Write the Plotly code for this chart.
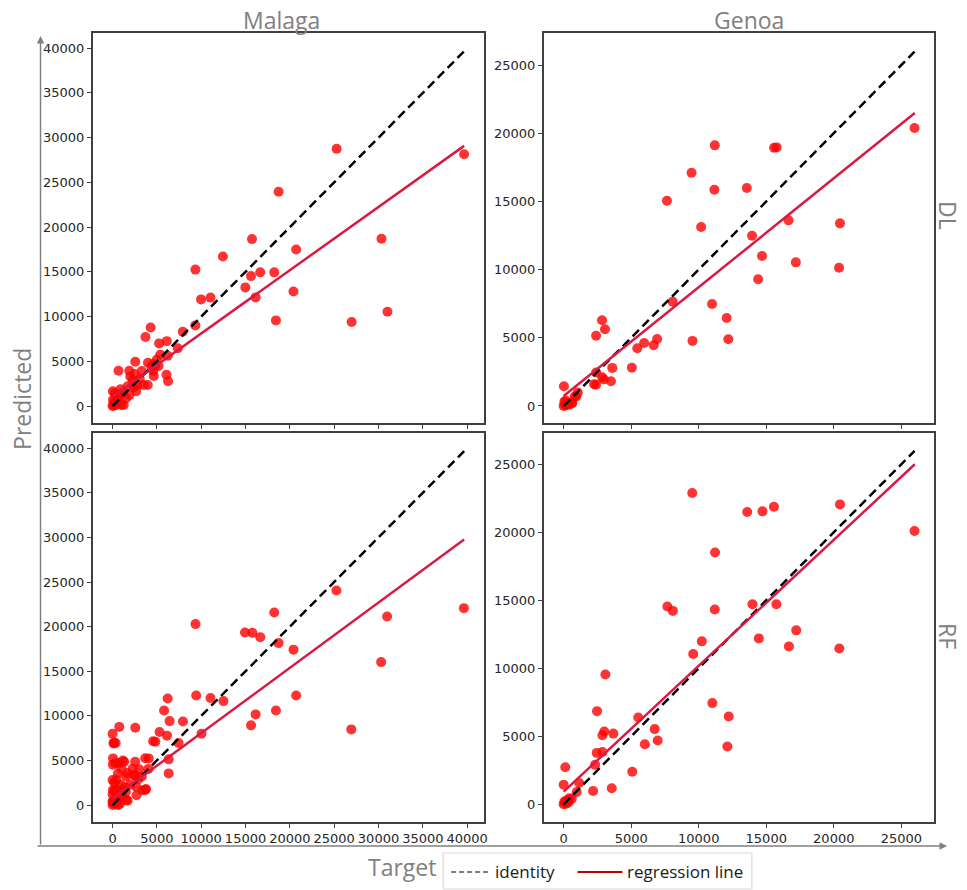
import plotly.graph_objects as go

# ---------------- data ----------------
malaga_dl_target = [25280, 39660, 18730, 15730, 30340, 20710, 12450, 9350, 15620, 16660, 18240, 14980,
                    9980, 11050, 16140, 20410, 18430, 26970, 31010, 9340, 7920, 4300, 3710, 5250, 6120,
                    7360, 5390, 6230, 2560, 3990, 4580, 4590, 6080, 6260, 670, 1890, 2250, 2470, 2660,
                    2810, 3070, 3500, 4380, 40, 900, 1540, 1260, 0, 100, 200, 300, 50, 400, 600, 150,
                    800, 1200, 500, 1700, 2000, 3300, 4800, 5000, 225, 970, 1910, 2400, 3970, 4650, 5190]
malaga_dl_pred = [28750, 28150, 23950, 18660, 18700, 17500, 16720, 15250, 14520, 14940, 14940, 13260,
                  11920, 12120, 12140, 12810, 9570, 9390, 10540, 9010, 8300, 8770, 7710, 7000, 7250,
                  6450, 5740, 5620, 4950, 4840, 4700, 3930, 3500, 2770, 3950, 3930, 2900, 3575, 1650,
                  2350, 3020, 2350, 4390, 1640, 1860, 860, 110, 0, 200, 500, 100, 700, 300, 600, 50,
                  1200, 1500, 1000, 2200, 3300, 3900, 4500, 5200, 1420, 110, 1230, 2100, 2350, 3350, 4470]

malaga_rf_target = [25250, 39630, 30970, 18240, 9360, 14940, 15770, 16660, 18730, 20410, 30300, 6220,
                    9440, 11050, 12510, 20710, 5810, 16140, 18430, 15620, 26930, 6440, 7940, 10030,
                    5300, 6140, 7450, 4570, 4830, 2560, 760, 0, 150, 350, 6330, 6330, 3680, 4080, 4040,
                    2550, 3000, 3300, 2900, 1310, 50, 300, 40, 700, 1690, 1000, 600, 0, 200, 900, 1400,
                    2000, 2500, 3700, 3400, 2700, 1700, 400, 0, 700, 300, 0, 100, 500, 0, 1100, 200,
                    1500, 800, 110, 1160, 2250, 410, 1530, 2470, 40, 1160, 2660, 3770, 40, 1530, 600]
malaga_rf_pred = [24050, 22070, 21140, 21590, 20280, 19340, 19300, 18820, 18150, 17420, 16020, 11950,
                  12270, 12000, 11650, 12270, 10600, 10160, 10600, 8930, 8480, 9410, 9370, 7990,
                  8180, 7780, 6950, 7150, 7100, 8660, 8760, 7980, 6980, 6950, 5120, 3550, 5240, 5230,
                  4050, 4860, 4000, 3200, 2900, 4860, 5230, 4680, 4530, 4700, 3600, 4100, 3500, 2800,
                  2500, 2300, 2000, 2300, 3300, 1700, 1650, 1100, 500, 1800, 1200, 1100, 600, 0, 200,
                  300, 400, 800, 1500, 1500, 100, 6910, 5000, 4070, 2800, 3210, 3360, 1680, 1680, 2050,
                  1790, 390, 580, 0]

genoa_dl_target = [25980, 11190, 15580, 15770, 9470, 11160, 13560, 7650, 10180, 16650, 20460, 13950,
                   14690, 17190, 20390, 14400, 8070, 10990, 12070, 12190, 9540, 6920, 6670, 5960, 5450,
                   5050, 2840, 2400, 3060, 3600, 3500, 2850, 2970, 2400, 2250, 2400, 20, 1050, 930,
                   640, 0, 100, 200, 300, 50, 400, 150, 600, 250, 820]
genoa_dl_pred = [20380, 19110, 18940, 18960, 17100, 15860, 15980, 15050, 13120, 13610, 13390, 12480,
                 11000, 10530, 10140, 9290, 7650, 7480, 6450, 4890, 4770, 4910, 4450, 4620, 4230,
                 2810, 6280, 5150, 5620, 2790, 1810, 2100, 1950, 2450, 1600, 1560, 1440, 980, 690,
                 200, 0, 100, 50, 200, 300, 100, 400, 250, 160, 690]

genoa_rf_target = [25980, 9520, 13590, 14720, 15570, 20460, 11210, 7680, 8090, 11190, 13980, 15750,
                   17220, 14450, 16680, 20410, 10230, 9590, 3090, 11010, 12220, 12120, 5520, 6740,
                   6960, 6010, 2470, 3010, 2870, 3680, 2450, 2870, 2330, 5080, 2180, 3560, 120, 0,
                   1150, 960, 600, 0, 100, 260, 430, 50, 200, 350]
genoa_rf_pred = [20090, 22890, 21490, 21540, 21880, 22050, 18520, 14540, 14220, 14320, 14710, 14710,
                 12790, 12200, 11610, 11460, 11980, 11050, 9550, 7440, 6460, 4250, 6380, 5530, 4690,
                 4420, 6850, 5350, 5080, 5200, 3780, 3850, 2900, 2400, 980, 1180, 2730, 1440, 1570,
                 900, 400, 0, 120, 310, 450, 200, 50, 150]

# regression line end points (x at start/end, y at start/end)
malaga_dl_reg_x, malaga_dl_reg_y = [0, 39660], [1040, 29080]
malaga_rf_reg_x, malaga_rf_reg_y = [0, 39660], [750, 29770]
genoa_dl_reg_x, genoa_dl_reg_y = [0, 26000], [730, 21480]
genoa_rf_reg_x, genoa_rf_reg_y = [0, 26000], [930, 25000]
malaga_ident = [0, 39660]
genoa_ident = [0, 25980]

malaga_ticks = [0, 5000, 10000, 15000, 20000, 25000, 30000, 35000, 40000]
genoa_ticks = [0, 5000, 10000, 15000, 20000, 25000]
malaga_ticklabels = ["0", "5000", "10000", "15000", "20000", "25000", "30000", "35000", "40000"]
genoa_ticklabels = ["0", "5000", "10000", "15000", "20000", "25000"]
col_titles = ["Malaga", "Genoa"]
row_titles = ["DL", "RF"]

# ---------------- figure ----------------
W, H = 967, 890
def fx(p): return p / W
def fy(p): return 1 - p / H

fig = go.Figure()

panels = [
    (1, malaga_dl_target, malaga_dl_pred, malaga_dl_reg_x, malaga_dl_reg_y, malaga_ident),
    (2, genoa_dl_target, genoa_dl_pred, genoa_dl_reg_x, genoa_dl_reg_y, genoa_ident),
    (3, malaga_rf_target, malaga_rf_pred, malaga_rf_reg_x, malaga_rf_reg_y, malaga_ident),
    (4, genoa_rf_target, genoa_rf_pred, genoa_rf_reg_x, genoa_rf_reg_y, genoa_ident),
]
for i, xt, yp, rx, ry, ident in panels:
    xa = "x" if i == 1 else f"x{i}"
    ya = "y" if i == 1 else f"y{i}"
    fig.add_trace(go.Scatter(x=xt, y=yp, mode="markers", xaxis=xa, yaxis=ya, showlegend=False,
                             marker=dict(color="#ff0000", size=10, opacity=0.8, line=dict(width=0)),
                             hoverinfo="skip"))
    fig.add_trace(go.Scatter(x=ident, y=ident, mode="lines", xaxis=xa, yaxis=ya, showlegend=False,
                             line=dict(color="black", width=2.5, dash="9px,5px"), hoverinfo="skip"))
    fig.add_trace(go.Scatter(x=rx, y=ry, mode="lines", xaxis=xa, yaxis=ya, showlegend=False,
                             line=dict(color="#d81b45", width=2.5), hoverinfo="skip"))

left_dom = [fx(93), fx(486)]
right_dom = [fx(546), fx(938)]
top_dom = [fy(423), fy(33)]
bot_dom = [fy(822), fy(433)]

tickfont = dict(family="DejaVu Sans", size=13, color="#262626")
common = dict(showline=True, mirror=True, linecolor="#404040", linewidth=1.5, ticks="outside",
              ticklen=4, tickwidth=1, tickcolor="#404040", showgrid=False, zeroline=False,
              tickfont=tickfont, tickmode="array", tickangle=0)

fig.update_layout(
    xaxis=dict(domain=left_dom, range=[-2250, 41900], tickvals=malaga_ticks, ticktext=malaga_ticklabels,
               showticklabels=False, anchor="y", **common),
    yaxis=dict(domain=top_dom, range=[-1900, 41700], tickvals=malaga_ticks, ticktext=malaga_ticklabels,
               anchor="x", **common),
    xaxis2=dict(domain=right_dom, range=[-1475, 27430], tickvals=genoa_ticks, ticktext=genoa_ticklabels,
                showticklabels=False, anchor="y2", **common),
    yaxis2=dict(domain=top_dom, range=[-1250, 27350], tickvals=genoa_ticks, ticktext=genoa_ticklabels,
                anchor="x2", **common),
    xaxis3=dict(domain=left_dom, range=[-2250, 41900], tickvals=malaga_ticks, ticktext=malaga_ticklabels,
                anchor="y3", **common),
    yaxis3=dict(domain=bot_dom, range=[-1900, 41700], tickvals=malaga_ticks, ticktext=malaga_ticklabels,
                anchor="x3", **common),
    xaxis4=dict(domain=right_dom, range=[-1475, 27430], tickvals=genoa_ticks, ticktext=genoa_ticklabels,
                anchor="y4", **common),
    yaxis4=dict(domain=bot_dom, range=[-1300, 27300], tickvals=genoa_ticks, ticktext=genoa_ticklabels,
                anchor="x4", **common),
    width=W, height=H, margin=dict(l=0, r=0, t=0, b=0),
    plot_bgcolor="white", paper_bgcolor="white", showlegend=False,
)

gray = "#808080"
label_font = dict(family="Open Sans", size=23, color=gray)
ann = []
ann.append(dict(text=col_titles[0], x=fx(283), y=fy(20), xref="paper", yref="paper",
                showarrow=False, font=label_font, xanchor="center", yanchor="middle"))
ann.append(dict(text=col_titles[1], x=fx(752), y=fy(20), xref="paper", yref="paper",
                showarrow=False, font=label_font, xanchor="center", yanchor="middle"))
ann.append(dict(text=row_titles[0], x=fx(952), y=fy(215), xref="paper", yref="paper", textangle=90,
                showarrow=False, font=label_font, xanchor="center", yanchor="middle"))
ann.append(dict(text=row_titles[1], x=fx(952), y=fy(636), xref="paper", yref="paper", textangle=90,
                showarrow=False, font=label_font, xanchor="center", yanchor="middle"))
ann.append(dict(text="Predicted", x=fx(22), y=fy(399), xref="paper", yref="paper", textangle=-90,
                showarrow=False, font=label_font, xanchor="center", yanchor="middle"))
ann.append(dict(text="Target", x=fx(404), y=fy(867), xref="paper", yref="paper",
                showarrow=False, font=label_font, xanchor="center", yanchor="middle"))
# outer arrows
ann.append(dict(text="", x=fx(40.7), y=fy(36), xref="paper", yref="paper", showarrow=True,
                ax=0, ay=810, arrowhead=2, arrowsize=1, arrowwidth=1.5, arrowcolor=gray, standoff=0))
ann.append(dict(text="", x=fx(951), y=fy(846), xref="paper", yref="paper", showarrow=True,
                ax=-911, ay=0, arrowhead=2, arrowsize=1, arrowwidth=1.5, arrowcolor=gray, standoff=0))
# legend texts
leg_font = dict(family="Open Sans", size=17, color="#1a1a1a")
ann.append(dict(text="identity", x=fx(495), y=fy(871), xref="paper", yref="paper",
                showarrow=False, font=leg_font, xanchor="left", yanchor="middle"))
ann.append(dict(text="regression line", x=fx(628), y=fy(871), xref="paper", yref="paper",
                showarrow=False, font=leg_font, xanchor="left", yanchor="middle"))
fig.update_layout(annotations=ann)

shapes = [
    dict(type="rect", xref="paper", yref="paper", x0=fx(445), x1=fx(755), y0=fy(889), y1=fy(853),
         line=dict(color="#d9d9d9", width=1.2), fillcolor="white"),
    dict(type="line", xref="paper", yref="paper", x0=fx(453), x1=fx(491), y0=fy(872), y1=fy(872),
         line=dict(color="black", width=1.2, dash="5px,3px")),
    dict(type="line", xref="paper", yref="paper", x0=fx(580), x1=fx(625), y0=fy(872), y1=fy(872),
         line=dict(color="#c00000", width=2.2)),
]
fig.update_layout(shapes=shapes)

fig.write_html("out.html")
